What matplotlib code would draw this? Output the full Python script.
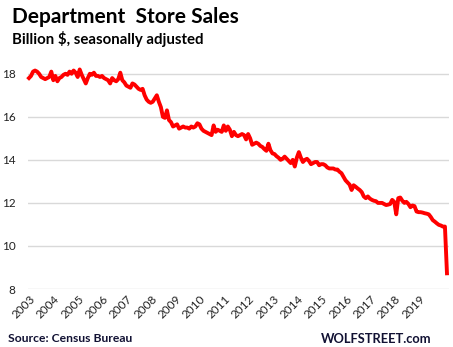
import numpy as np
import matplotlib
matplotlib.use("Agg")
import matplotlib.pyplot as plt
from matplotlib.transforms import ScaledTranslation

plt.rcParams['font.family'] = ['Lato', 'DejaVu Sans']

# monthly department store sales, billion $, Jan 2003 .. Mar 2020
sales_2003 = [17.8, 17.9, 18.1, 18.15, 18.1, 18.0, 17.85, 17.8, 17.75, 17.8, 17.85, 18.1]
sales_2004 = [17.7, 17.9, 17.65, 17.8, 17.85, 17.95, 18.0, 17.95, 18.1, 18.0, 18.15, 18.05]
sales_2005 = [17.85, 18.2, 17.95, 17.75, 17.55, 17.8, 18.0, 17.95, 18.05, 17.9, 17.9, 17.85]
sales_2006 = [17.9, 17.8, 17.75, 17.7, 17.55, 17.8, 17.7, 17.65, 17.75, 18.05, 17.7, 17.6]
sales_2007 = [17.45, 17.4, 17.35, 17.55, 17.5, 17.4, 17.3, 17.25, 17.3, 17.0, 16.8, 16.7]
sales_2008 = [16.65, 16.7, 16.85, 17.0, 16.7, 16.45, 16.0, 15.95, 16.3, 15.85, 15.75, 15.55]
sales_2009 = [15.6, 15.65, 15.45, 15.5, 15.55, 15.5, 15.5, 15.45, 15.55, 15.5, 15.55, 15.7]
sales_2010 = [15.65, 15.45, 15.35, 15.3, 15.25, 15.2, 15.15, 15.6, 15.3, 15.4, 15.35, 15.3]
sales_2011 = [15.6, 15.35, 15.55, 15.4, 15.1, 15.3, 15.15, 15.1, 15.15, 15.2, 15.15, 14.95]
sales_2012 = [15.2, 15.0, 14.7, 14.75, 14.8, 14.75, 14.65, 14.6, 14.5, 14.42, 14.75, 14.45]
sales_2013 = [14.3, 14.27, 14.17, 14.1, 14.0, 14.05, 14.15, 14.05, 13.95, 13.85, 14.0, 13.69]
sales_2014 = [14.1, 14.36, 14.1, 13.9, 14.0, 14.05, 13.95, 13.8, 13.85, 13.9, 13.9, 13.75]
sales_2015 = [13.8, 13.8, 13.75, 13.65, 13.6, 13.6, 13.6, 13.55, 13.55, 13.45, 13.38, 13.22]
sales_2016 = [13.05, 12.95, 12.85, 12.6, 12.82, 12.75, 12.67, 12.6, 12.5, 12.3, 12.22, 12.3]
sales_2017 = [12.2, 12.14, 12.1, 12.08, 12.0, 12.0, 12.0, 11.95, 11.9, 11.92, 11.95, 12.14]
sales_2018 = [12.05, 11.47, 12.22, 12.25, 12.1, 12.0, 12.05, 11.95, 11.8, 11.88, 11.85, 11.6]
sales_2019 = [11.57, 11.57, 11.55, 11.52, 11.5, 11.47, 11.35, 11.2, 11.13, 11.05, 10.98, 10.95]
sales_2020 = [10.9, 10.9, 8.73]

sales = (sales_2003 + sales_2004 + sales_2005 + sales_2006 + sales_2007 + sales_2008
         + sales_2009 + sales_2010 + sales_2011 + sales_2012 + sales_2013 + sales_2014
         + sales_2015 + sales_2016 + sales_2017 + sales_2018 + sales_2019 + sales_2020)
years = list(range(2003, 2020))
y_ticks = [8, 10, 12, 14, 16, 18]

t = 2003 + np.arange(len(sales)) / 12.0

fig = plt.figure(figsize=(4.53, 3.47), dpi=100)
ax = fig.add_axes([28 / 453, 58 / 347, 421 / 453, 226 / 347])

ax.plot(t, sales, color='#ff0000', linewidth=2.8, solid_joinstyle='round', clip_on=False)

ax.set_xlim(2002.96, 2020.25)
ax.set_ylim(8, 18.5)
ax.set_yticks(y_ticks)
ax.set_xticks(years)
ax.set_xticklabels([str(y) for y in years], rotation=45, ha='right')
ax.tick_params(axis='both', length=0, labelsize=8.5, colors='#222222')
ax.tick_params(axis='y', pad=9)
ax.tick_params(axis='x', pad=3)
offset = ScaledTranslation(6 / 72, 0, fig.dpi_scale_trans)
for lbl in ax.get_xticklabels():
    lbl.set_transform(lbl.get_transform() + offset)

ax.grid(axis='y', color='#d9d9d9', linewidth=1)
ax.set_axisbelow(True)
for s in ax.spines.values():
    s.set_visible(False)

fig.text(12 / 453, 1 - 7 / 347, 'Department  Store Sales', fontsize=15,
         fontweight='bold', va='top', ha='left', color='black')
fig.text(12 / 453, 1 - 31 / 347, 'Billion $, seasonally adjusted', fontsize=10.8,
         fontweight='bold', va='top', ha='left', color='black')
fig.text(8 / 453, 1 - 339 / 347, 'Source: Census Bureau', fontsize=8.7,
         fontweight='bold', va='center', ha='left', color='#111133')
fig.text(432 / 453, 1 - 339 / 347, 'WOLFSTREET.com', fontsize=9.3,
         fontweight='bold', va='center', ha='right', color='#111133')

fig.savefig('out.png', dpi=100)
